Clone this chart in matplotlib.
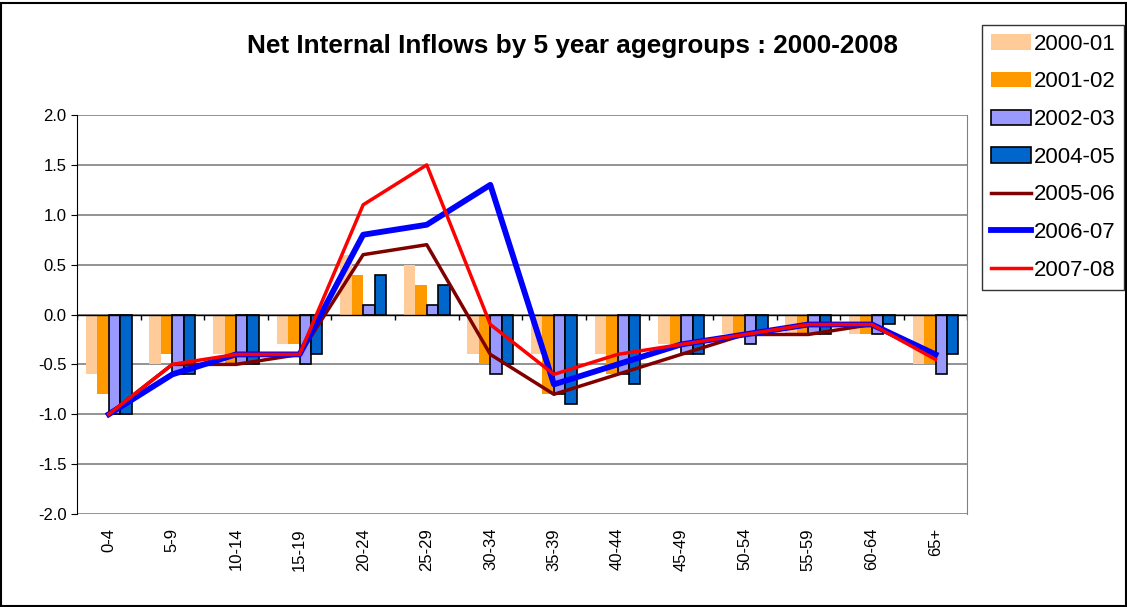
import numpy as np
import matplotlib.pyplot as plt
from matplotlib.patches import Rectangle

plt.rcParams['font.family'] = ['Liberation Sans', 'DejaVu Sans']

# age groups on the category axis
age_groups = ['0-4', '5-9', '10-14', '15-19', '20-24', '25-29', '30-34',
              '35-39', '40-44', '45-49', '50-54', '55-59', '60-64', '65+']

# bar series
s2000_01 = [-0.6, -0.5, -0.4, -0.3, 0.6, 0.5, -0.4, -0.4, -0.4, -0.3, -0.2, -0.2, -0.2, -0.5]
s2001_02 = [-0.8, -0.4, -0.5, -0.3, 0.4, 0.3, -0.5, -0.8, -0.6, -0.3, -0.2, -0.2, -0.2, -0.5]
s2002_03 = [-1.0, -0.6, -0.5, -0.5, 0.1, 0.1, -0.6, -0.8, -0.6, -0.4, -0.3, -0.2, -0.2, -0.6]
s2004_05 = [-1.0, -0.6, -0.5, -0.4, 0.4, 0.3, -0.5, -0.9, -0.7, -0.4, -0.2, -0.2, -0.1, -0.4]

# line series
s2005_06 = [-1.0, -0.5, -0.5, -0.4, 0.6, 0.7, -0.4, -0.8, -0.6, -0.4, -0.2, -0.2, -0.1, -0.4]
s2006_07 = [-1.0, -0.6, -0.4, -0.4, 0.8, 0.9, 1.3, -0.7, -0.5, -0.3, -0.2, -0.1, -0.1, -0.4]
s2007_08 = [-1.0, -0.5, -0.4, -0.4, 1.1, 1.5, -0.1, -0.6, -0.4, -0.3, -0.2, -0.1, -0.1, -0.45]

y_ticks = [-2.0, -1.5, -1.0, -0.5, 0.0, 0.5, 1.0, 1.5, 2.0]

fig = plt.figure(figsize=(11.27, 6.07), dpi=100)
ax = fig.add_axes([0.0683, 0.1532, 0.790, 0.6573])

x = np.arange(len(age_groups))
bw = 0.18
bars = [
    (s2000_01, '2000-01', '#FFCC99', 'none'),
    (s2001_02, '2001-02', '#FF9900', 'none'),
    (s2002_03, '2002-03', '#9999FF', 'black'),
    (s2004_05, '2004-05', '#0066CC', 'black'),
]
handles = []
for i, (vals, lab, col, ec) in enumerate(bars):
    h = ax.bar(x + (i - 1.5) * bw, vals, width=bw, color=col, edgecolor=ec,
               linewidth=1.2 if ec != 'none' else 0, label=lab, zorder=2)
    handles.append(h)

lines = [
    (s2005_06, '2005-06', '#800000', 2.5),
    (s2006_07, '2006-07', '#0000FF', 4.2),
    (s2007_08, '2007-08', '#FF0000', 2.5),
]
for vals, lab, col, lw in lines:
    h, = ax.plot(x, vals, color=col, linewidth=lw, label=lab, zorder=3)
    handles.append(h)

ax.set_xlim(-0.5, len(age_groups) - 0.5)
ax.set_ylim(-2.0, 2.0)
ax.set_yticks(y_ticks)
ax.set_yticklabels([f'{v:.1f}' for v in y_ticks], fontsize=12)
ax.yaxis.grid(True, color='#808080', linewidth=1.2, zorder=0)
ax.set_axisbelow(True)

ax.set_xticks(x)
ax.set_xticklabels(age_groups, rotation=90, fontsize=12)
ax.tick_params(axis='x', length=0, pad=10)
ax.tick_params(axis='y', length=4, direction='out')

# zero axis with small category ticks
ax.axhline(0, color='black', linewidth=1, zorder=2.5)
ax.vlines(np.arange(len(age_groups) + 1) - 0.5, -0.05, 0, color='black', linewidth=1, zorder=2.5)

for side in ['top', 'bottom']:
    ax.spines[side].set_visible(False)
ax.spines['right'].set_color('#808080')
ax.spines['left'].set_color('black')

fig.text(0.508, 0.925, 'Net Internal Inflows by 5 year agegroups : 2000-2008',
         ha='center', va='center', fontsize=18.8, fontweight='bold')

leg = fig.legend(handles=handles, loc='upper left', bbox_to_anchor=(0.871, 0.959),
                 fontsize=16, frameon=True, fancybox=False, edgecolor='black',
                 handlelength=1.8, handletextpad=0.15, labelspacing=0.75,
                 borderpad=0.4, borderaxespad=0)
leg.get_frame().set_linewidth(1)

fig.patches.append(Rectangle((0.001, 0.001), 0.998, 0.994, transform=fig.transFigure,
                             fill=False, edgecolor='black', linewidth=1.5))

fig.savefig('out.png', dpi=100)
